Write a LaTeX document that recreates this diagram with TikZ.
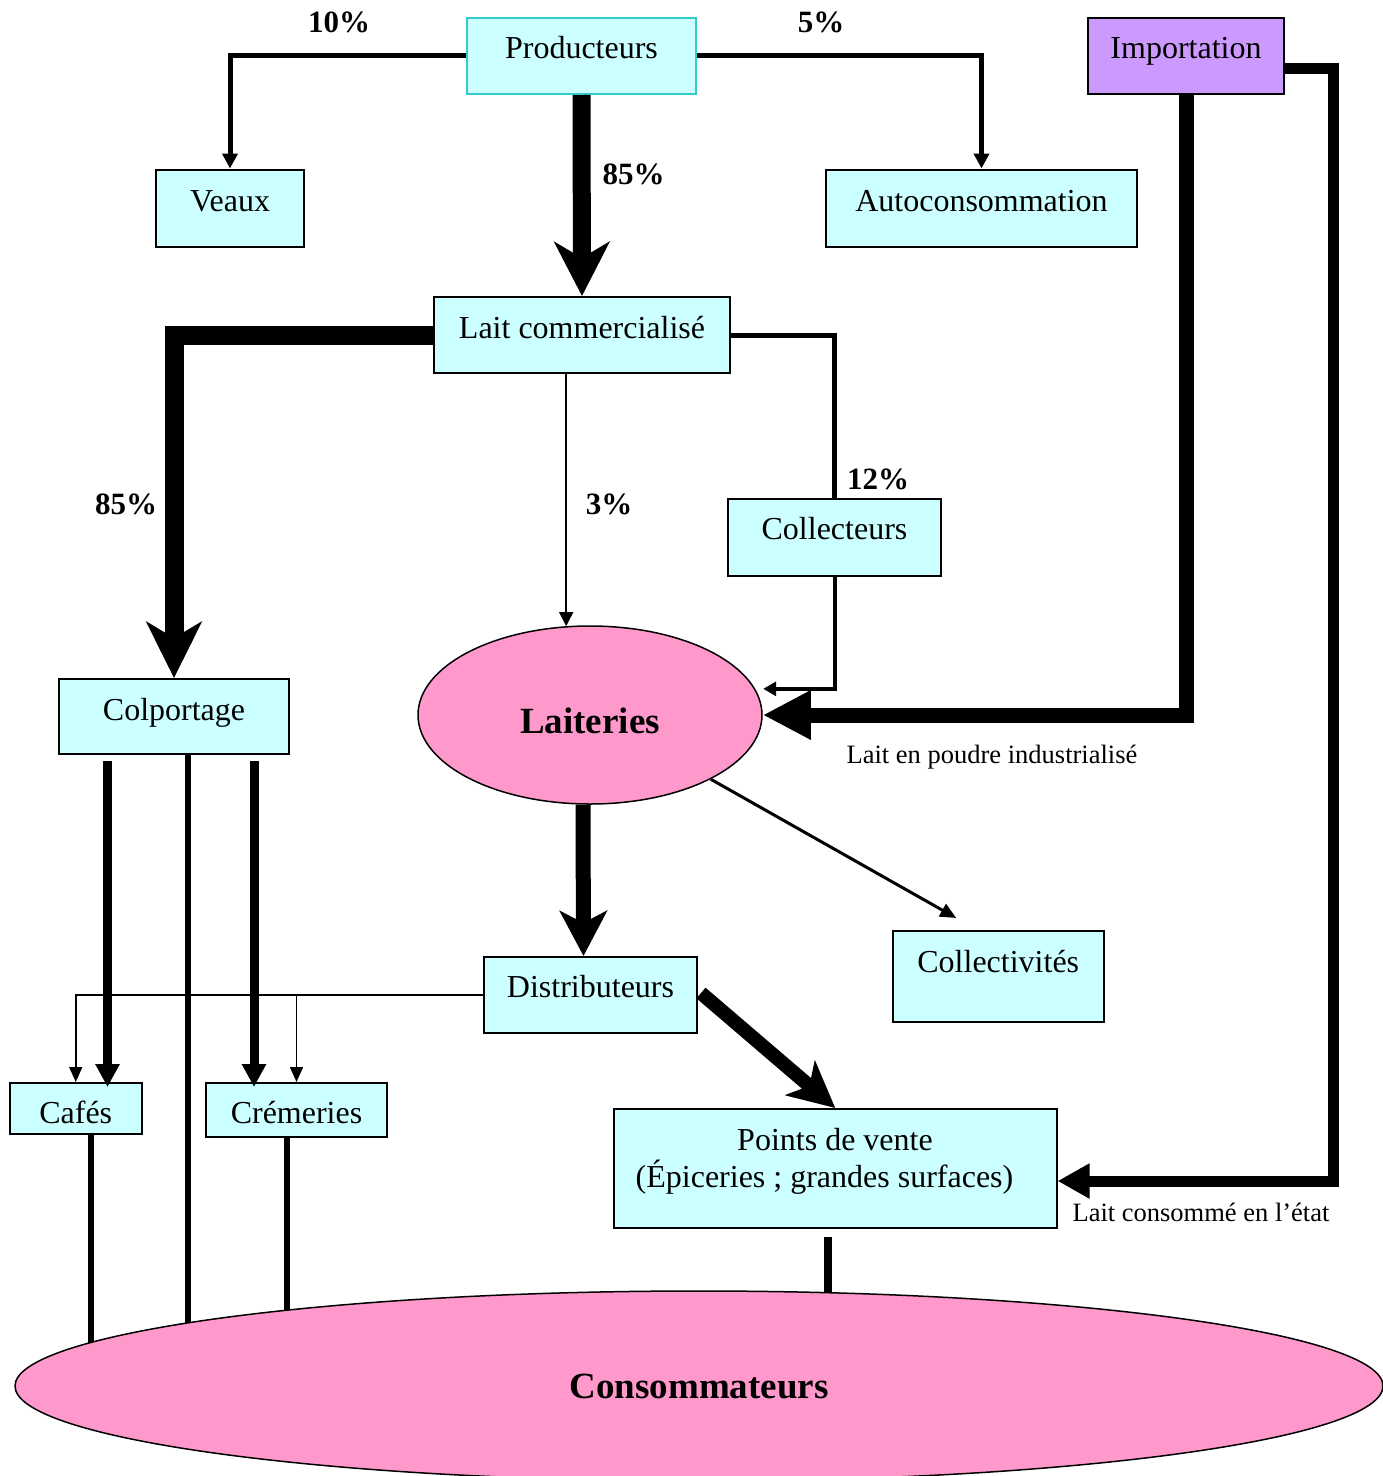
\documentclass[tikz,border=0pt]{standalone}
\usepackage{fontspec}
\setmainfont{Liberation Serif}
\usetikzlibrary{arrows.meta,shapes.geometric,calc}
\pgfdeclarelayer{background}
\pgfsetlayers{background,main}
\definecolor{boxfill}{HTML}{CCFFFF}
\definecolor{impfill}{HTML}{CC99FF}
\definecolor{ellfill}{HTML}{FF99CC}
\definecolor{prodborder}{HTML}{33CCCC}
\begin{document}
\begin{tikzpicture}[x=1pt,y=-1pt,
  box/.style={draw=black, fill=boxfill, line width=2pt, inner sep=0pt, minimum height=0pt, font=\fontsize{32}{37}\selectfont},
  boxtext/.style={anchor=base, inner sep=0pt, font=\fontsize{32}{37}\selectfont},
  pct/.style={anchor=base, inner sep=0pt, font=\fontsize{31}{36}\selectfont\bfseries},
  note/.style={anchor=base, inner sep=0pt, font=\fontsize{26.5}{30}\selectfont},
  blob/.style={ellipse, draw=black, fill=ellfill, line width=1.5pt, inner sep=0pt, font=\fontsize{37}{42}\selectfont\bfseries},
  thinarrow/.style={line width=1.5pt, -{Triangle[length=15pt,width=13pt]}},
]
\path[use as bounding box] (0,0) rectangle (1383,1476);
\begin{pgfonlayer}{background}
\fill[white] (0,0) rectangle (1383,1476);
\end{pgfonlayer}
\clip (0,0) rectangle (1383,1476);

% ---------- nodes ----------
\node[box, draw=prodborder, minimum width=229pt, text height=41pt, text depth=35.5pt] (prod) at (581.5,55.75) {Producteurs};
\node[box, minimum width=148pt, text height=41.5pt, text depth=35.5pt] (veaux) at (230,208) {Veaux};
\node[box, minimum width=311pt, text height=41.5pt, text depth=35.5pt] (auto) at (981.5,208) {Autoconsommation};
\node[box, fill=impfill, minimum width=196pt, text height=41pt, text depth=35.5pt] (imp) at (1186,55.75) {Importation};
\node[box, minimum width=296pt, text height=41.3pt, text depth=34.7pt] (lait) at (582,335) {Lait commercialisé};
\node[box, minimum width=213pt, text height=40.5pt, text depth=36.5pt] (coll) at (834.5,537.5) {Collecteurs};
\node[box, minimum width=230pt, text height=41pt, text depth=34pt] (colp) at (174,716.5) {Colportage};
\node[blob, minimum width=344pt, minimum height=178pt, text height=36pt, text depth=0pt] (laiteries) at (590,715) {Laiteries};
\node[box, minimum width=213pt, text height=40pt, text depth=36pt] (dist) at (590.5,995) {Distributeurs};
\node[box, minimum width=211.5pt, text height=41pt, text depth=50pt] (collect) at (998.25,976.5) {Collectivités};
\node[box, minimum width=131.5pt, text height=40pt, text depth=11pt] (cafes) at (75.75,1108.5) {Cafés};
\node[box, minimum width=181pt, text height=40pt, text depth=14pt] (crem) at (296.5,1110) {Crémeries};
\node[box, minimum width=442.5pt, minimum height=119pt] (pv) at (835.25,1168.5) {};
\node[boxtext] (pv1) at (835,1150) {Points de vente};
\node[boxtext] (pv2) at (824.5,1187) {(Épiceries ; grandes surfaces)};
\node[blob, minimum width=1368pt, minimum height=190pt, text height=24pt, text depth=0pt] (cons) at (699,1386) {Consommateurs};

% ---------- labels ----------
\node[pct] (p10) at (339,32) {10\%};
\node[pct] (p5) at (821,32) {5\%};
\node[pct] (p85a) at (633.5,184) {85\%};
\node[pct] (p85b) at (126,514) {85\%};
\node[pct] (p3) at (609,514) {3\%};
\node[pct] (p12) at (878,489) {12\%};
\node[note] (n1) at (992,763) {Lait en poudre industrialisé};
\node[note] (n2) at (1201,1221) {Lait consommé en l’état};

% ---------- connectors ----------
\draw[line width=5pt, -{Triangle[length=15pt,width=15pt]}] (prod.west) -| (veaux.north);
\draw[line width=5pt, -{Triangle[length=15pt,width=15pt]}] (prod.east) -| (auto.north);
\draw[line width=18pt, -{Stealth[length=54pt,width=55pt,inset=16pt]}] (prod.south) -- (lait.north);
\draw[line width=19pt, -{Stealth[length=56pt,width=55pt,inset=16pt]}] (lait.west) -| (colp.north);
\draw[line width=1.5pt, -{Triangle[length=14pt,width=14pt]}] (lait.south -| laiteries.105) -- (laiteries.105);
\draw[line width=5pt] (lait.east) -| (coll.north);
\draw[line width=4pt, -{Triangle[length=13pt,width=14pt]}] (coll.south) |- ($(laiteries.9)+(8,0)$);
\draw[line width=15pt, -{Triangle[length=48pt,width=46pt]}] (imp.south) |- (laiteries.east);
\draw[line width=11pt, -{Triangle[length=32pt,width=33pt]}] ($(imp.east)+(0,12.5)$) -- ++(48,0) |- ($(pv.east)+(0,12.5)$);
\draw[line width=15pt, -{Stealth[length=45pt,width=47pt,inset=12pt]}] ($(laiteries.south)+(-7,0)$) -- ($(dist.north)+(-7,0)$);
\draw[line width=3pt, -{Triangle[length=16pt,width=14pt]}] (laiteries.-28) -- ($(collect.north)+(-42,-12)$);
\draw[line width=14pt, -{Stealth[length=46pt,width=45pt,inset=12pt]}] ($(dist.east)+(3,-2)$) -- (pv.north);
\draw[thinarrow] (dist.west) -| (cafes.north);
\draw[thinarrow] (dist.west -| crem.north) -- (crem.north);
\draw[line width=9pt, -{Triangle[length=23pt,width=23pt]}] ($(colp.south west)+(49.5,6)$) -- ($(cafes.north west)+(98.5,5)$);
\draw[line width=9pt, -{Triangle[length=23pt,width=23pt]}] ($(colp.south west)+(196,6)$) -- ($(crem.north west)+(49,5)$);

\coordinate (k1) at ($(colp.south west)+(130,0)$);
\coordinate (k2) at ($(cafes.south)+(15,0)$);
\coordinate (k3) at ($(crem.south)+(-9.5,0)$);
\coordinate (k4) at ($(pv.south)+(-7,8)$);
\begin{pgfonlayer}{background}
\draw[line width=6pt] (k1) -- (k1 |- cons.center);
\draw[line width=6pt] (k2) -- (k2 |- cons.center);
\draw[line width=6pt] (k3) -- (k3 |- cons.center);
\draw[line width=8pt] (k4) -- (k4 |- cons.center);
\end{pgfonlayer}
\end{tikzpicture}
\end{document}
